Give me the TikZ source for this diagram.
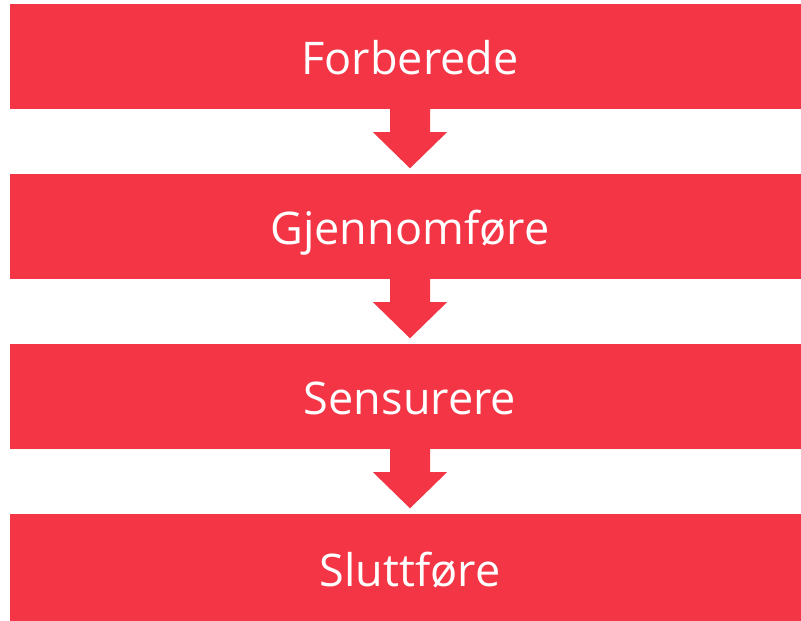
\documentclass[tikz,border=0pt]{standalone}
\usepackage{fontspec}
\setmainfont{Open Sans}
\usetikzlibrary{calc}
\definecolor{boxred}{RGB}{244,53,69}
\tikzset{
  stage/.style={fill=boxred, draw=none, minimum width=800pt, minimum height=105pt,
    inner sep=0pt, text=white, font=\fontsize{45}{50}\selectfont,
    text height=36pt, text depth=0pt, anchor=center},
  flowarrow/.style={fill=boxred, draw=none}
}
\begin{document}
\begin{tikzpicture}[x=1pt,y=1pt]
\useasboundingbox (0,0) rectangle (801,621);
\node[stage] (b1) at (410,621-56.5) {Forberede};
\node[stage] (b2) at (410,621-226.5) {Gjennomføre};
\node[stage] (b3) at (410,621-396.5) {Sensurere};
\node[stage, minimum height=110pt] (b4) at (410,621-569) {Sluttføre};
\foreach \a/\b in {b1/b2,b2/b3,b3/b4}{
  \fill[flowarrow] ($(\a.south)+(-20,0.5)$) -- ($(\a.south)+(20,0.5)$)
    -- ($(\a.south)+(20,-23)$) -- ($(\a.south)+(37,-23)$)
    -- ($(\b.north)+(0,5.5)$) -- ($(\a.south)+(-37,-23)$)
    -- ($(\a.south)+(-20,-23)$) -- cycle;
}
\end{tikzpicture}
\end{document}
